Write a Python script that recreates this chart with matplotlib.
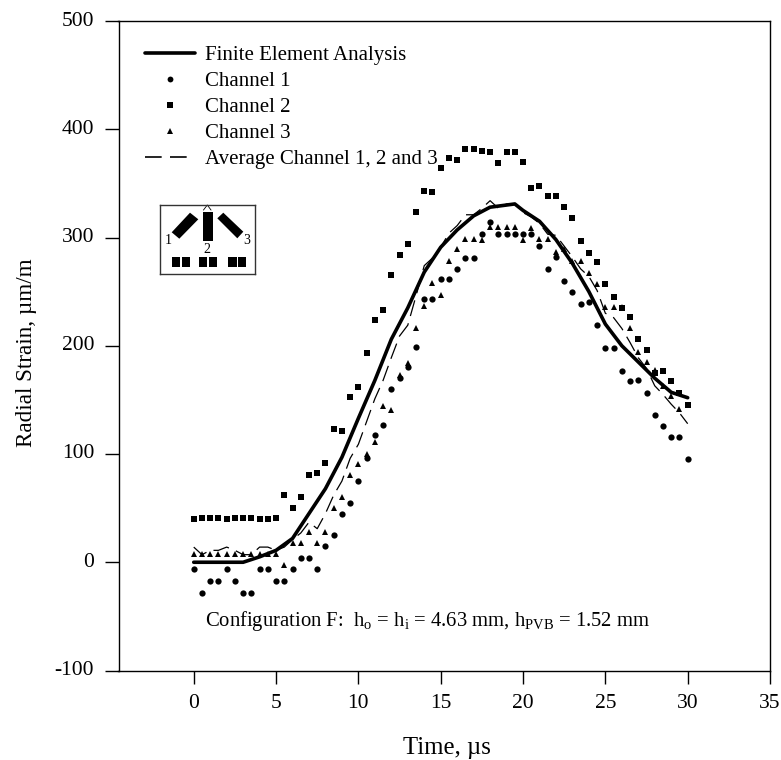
import matplotlib
matplotlib.use("Agg")
import matplotlib.pyplot as plt
from matplotlib.patches import Polygon, Rectangle
from matplotlib.transforms import ScaledTranslation

plt.rcParams['font.family'] = ['Liberation Serif', 'DejaVu Serif']
plt.rcParams['mathtext.default'] = 'regular'
plt.rcParams['axes.unicode_minus'] = False

time_us = [i * 0.5 for i in range(61)]
channel1 = [-6, -28, -17, -17, -6, -17, -28, -28, -6, -6, -17, -17, -6, 4, 4, -6, 15, 25, 45, 55,
            75, 96, 118, 127, 160, 170, 180, 199, 243, 243, 262, 262, 271, 281, 281, 303, 314, 303,
            303, 303, 303, 303, 292, 271, 282, 260, 250, 239, 240, 219, 198, 198, 177, 167, 168,
            156, 136, 126, 116, 116, 95]
channel2 = [40, 41, 41, 41, 40, 41, 41, 41, 40, 40, 41, 62, 50, 60, 81, 82, 92, 123, 121, 153,
            162, 193, 224, 233, 265, 284, 294, 324, 343, 342, 364, 373, 372, 382, 382, 380, 379,
            369, 379, 379, 370, 346, 348, 338, 338, 328, 318, 297, 286, 277, 257, 245, 235, 227,
            206, 196, 175, 177, 167, 156, 145]
channel3 = [8, 8, 8, 8, 8, 8, 8, 8, 8, 8, 8, -3, 18, 18, 28, 18, 28, 50, 60, 81,
            91, 100, 111, 144, 141, 173, 184, 216, 237, 258, 247, 278, 289, 299, 299, 298, 310,
            310, 310, 310, 298, 309, 299, 299, 287, 289, 278, 278, 267, 257, 236, 236, 236, 216,
            194, 185, 178, 163, 154, 142, 145]
average = [14, 7, 11, 11, 14, 11, 7, 7, 14, 14, 11, 14, 21, 27, 37, 31, 45, 62, 75, 96,
           109, 130, 151, 168, 189, 209, 219, 246, 274, 281, 291, 304, 311, 321, 321, 327, 334,
           327, 331, 331, 323, 319, 313, 303, 302, 292, 282, 271, 264, 251, 230, 226, 216, 203,
           189, 179, 163, 155, 146, 138, 128]
fea_time = [0, 3, 4, 5, 6, 7, 8, 9, 10, 11, 12, 13, 14, 15, 16, 17, 18, 19, 19.5, 20, 21, 22, 23,
            24, 25, 26, 27, 28, 29, 30]
fea = [0, 0, 5, 11, 22, 45, 68, 97, 133, 168, 206, 235, 268, 291, 307, 320, 328, 330, 331, 325,
       315, 298, 276, 250, 220, 200, 185, 170, 157, 152]

W, H = 781, 760
fig = plt.figure(figsize=(W / 100, H / 100), dpi=100)
L, R, T, B = 118.5, 770, 21, 670.5
ax = fig.add_axes([L / W, 1 - B / H, (R - L) / W, (B - T) / H])
ax.set_xlim(-4.57, 35)
ax.set_ylim(-100, 500)
ax.set_xticks([0, 5, 10, 15, 20, 25, 30, 35])
ax.set_yticks([-100, 0, 100, 200, 300, 400, 500])
ax.tick_params(axis='x', length=9, width=1, pad=8, labelsize=15.5)
ax.tick_params(axis='y', length=10, width=1, pad=7.6, labelsize=15.5)
for lab in ax.get_yticklabels():
    lab.set_transform(lab.get_transform() + ScaledTranslation(0, 2.5 / 100, fig.dpi_scale_trans))
for s in ax.spines.values():
    s.set_linewidth(1)

line_fea, = ax.plot(fea_time, fea, color='k', lw=2.6, solid_capstyle='round', label='Finite Element Analysis')
ax.plot(time_us, average, color='k', lw=0.9, dashes=(13, 6), zorder=2)
ax.plot(time_us, channel1, ls='none', marker='o', ms=4.5, color='k', mew=0, zorder=3)
ax.plot(time_us, channel2, ls='none', marker='s', ms=4.3, color='k', mew=0, zorder=3)
ax.plot(time_us, channel3, ls='none', marker='^', ms=5, color='k', mew=0, zorder=3)

h1, = ax.plot([], [], ls='none', marker='o', ms=4.2, color='k', mew=0, label='Channel 1')
h2, = ax.plot([], [], ls='none', marker='s', ms=3.7, color='k', mew=0, label='Channel 2')
h3, = ax.plot([], [], ls='none', marker='^', ms=4.2, color='k', mew=0, label='Channel 3')
h4, = ax.plot([], [], color='k', lw=1.2, dashes=(10, 5), label='Average Channel 1, 2 and 3')
ax.legend(handles=[line_fea, h1, h2, h3, h4], loc='upper left', bbox_to_anchor=(0.0407, 0.9625),
          frameon=False, fontsize=15, handlelength=2.4, handletextpad=0.48, labelspacing=0.31,
          borderpad=0, borderaxespad=0)

ax.set_xlabel('Time, µs', fontsize=17.8)
ax.set_ylabel('Radial Strain, µm/m', fontsize=16.7)
ax.xaxis.set_label_coords(0.504, -0.1026)
ax.yaxis.set_label_coords(-0.125, 0.489)

ax.text(0.7, -54, 'Configuration F:  h$_{o}$ = h$_{i}$ = 4.63 mm, h$_{PVB}$ = 1.52 mm',
        fontsize=14.9, va='center', ha='left')

# strain-gauge layout sketch
ix, iy, iw, ih = 160, 205, 95, 69
ins = fig.add_axes([ix / W, 1 - (iy + ih) / H, iw / W, ih / H])
ins.set_xlim(0, iw)
ins.set_ylim(ih, 0)
ins.set_xticks([])
ins.set_yticks([])
for s in ins.spines.values():
    s.set_linewidth(1)
    s.set_color('#333333')
gauge_shapes = [
    [(11.7, 27.3), (30, 7.7), (38.3, 14.3), (19.3, 33.7)],
    [(43.3, 7.3), (53.3, 7.3), (53.3, 36), (43.3, 36)],
    [(57.3, 13.3), (63.3, 7.7), (83.3, 26.7), (77.3, 33.3)],
]
for poly in gauge_shapes:
    ins.add_patch(Polygon(poly, closed=True, color='k', lw=0))
for x0, x1 in [(11.7, 20), (21.7, 30), (39, 47.3), (49.3, 57.3), (68.3, 76.7), (78.3, 86)]:
    ins.add_patch(Rectangle((x0, 51.7), x1 - x0, 10, color='k', lw=0))
ins.plot([43.5, 47.3, 51], [5, 0, 5], color='k', lw=0.6, clip_on=False)
for x, y, t in [(8.3, 36, '1'), (47.3, 44.5, '2'), (86.7, 36, '3')]:
    ins.text(x, y, t, fontsize=10, ha='center', va='center')

fig.savefig('out.png', dpi=100)
